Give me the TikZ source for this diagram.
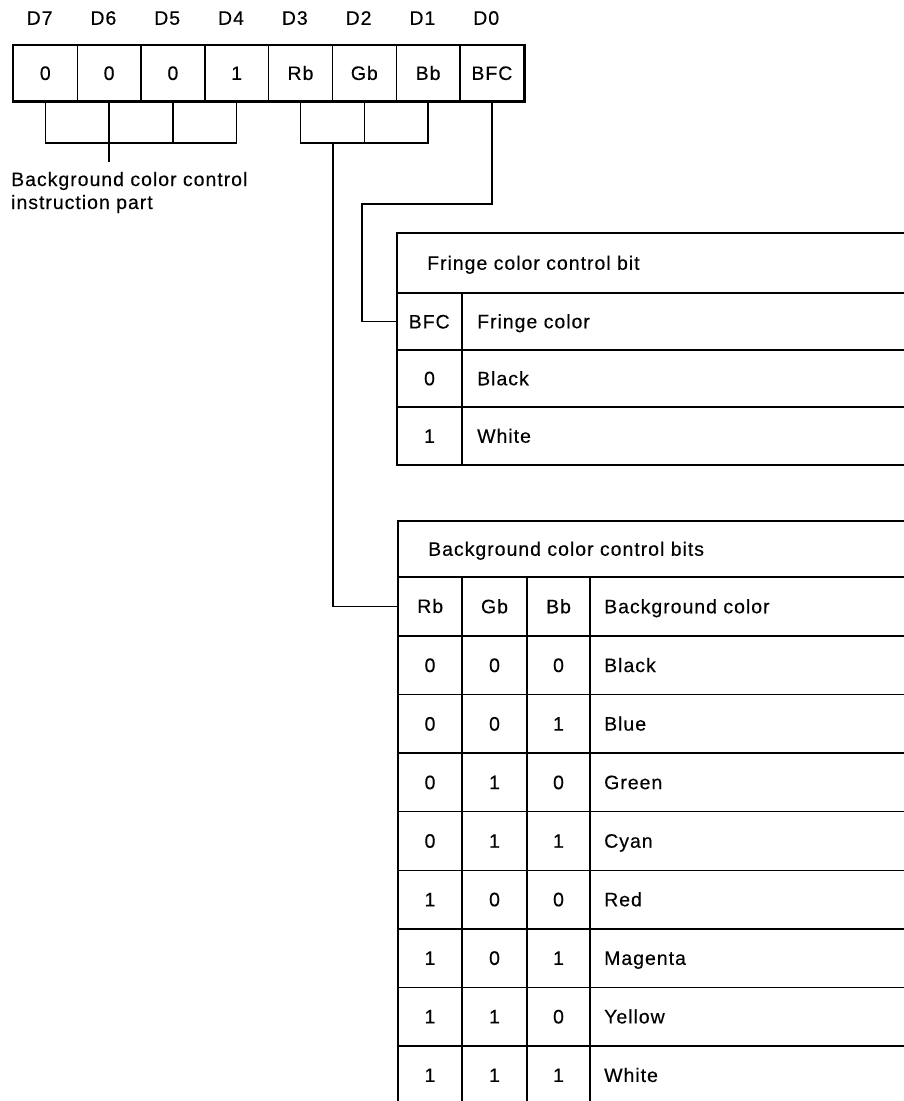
\documentclass[tikz,border=0pt]{standalone}
\usepackage{fontspec}
\setmainfont{Liberation Sans}[LetterSpace=5, FakeBold=0.3]
\begin{document}
\begin{tikzpicture}[x=1pt,y=-1pt,
  every node/.style={font=\fontsize{19.5}{24}\selectfont, inner sep=0pt, text height=13.5pt, text depth=0pt},
  outer/.style={line width=2.4pt},
  inner/.style={line width=1.4pt},
  wire/.style={line width=1.4pt},
  regcell/.style={draw, inner, minimum width=63.8pt, minimum height=55pt, anchor=north west},
  hdrcell/.style={minimum width=64pt, minimum height=58pt},
  lefttxt/.style={anchor=west},
]
\useasboundingbox (0,0) rectangle (904,1101);
\clip (0,0) rectangle (904,1101);

% ---------- register ----------
\foreach \i/\t/\d in {0/0/D7,1/0/D6,2/0/D5,3/1/D4,4/Rb/D3,5/Gb/D2,6/Bb/D1,7/BFC/D0}{
  \node[regcell] (r\i) at ({12.7+63.8*\i},45) {\t};
  \node (l\i) at ({12.7+63.8*\i+31.9-5},18) {\d};
}
\draw[outer] (r0.north west) rectangle (r7.south east);

% left group bus
\draw[wire] (r0.south) |- (r3.south |- 0,143) -- (r3.south);
\draw[wire] (r1.south) -- (r1.south |- 0,162);
\draw[wire] (r2.south) -- (r2.south |- 0,143);
\node[anchor=base west] (bg1) at (11,186) {Background color control};
\node[anchor=base west] (bg2) at (11,209) {instruction part};

% right group bus
\draw[wire] (r4.south) |- (r6.south |- 0,143) -- (r6.south);
\draw[wire] (r5.south) -- (r5.south |- 0,143);

% ---------- fringe table ----------
\draw[inner] (397,293) -- (920,293);
\draw[inner] (397,350) -- (920,350);
\draw[inner] (397,407) -- (920,407);
\draw[inner] (462,293) -- (462,465);
\draw[outer] (920,233) -- (397,233) -- (397,465) -- (920,465);
\node[lefttxt] (ftitle) at (427,263) {Fringe color control bit};
\node[hdrcell, minimum height=57pt, anchor=north west] (fbfc) at (397,293) {BFC};
\node[lefttxt] (fhdr) at (477,321.5) {Fringe color};
\node (f0) at (429.5,378.5) {0};
\node[lefttxt] (f0t) at (477,378.5) {Black};
\node (f1) at (429.5,436) {1};
\node[lefttxt] (f1t) at (477,436) {White};

% ---------- background table ----------
\draw[inner] (398,577) -- (920,577);
\foreach \k in {0,...,7}{
  \draw[inner] (398,{636+58.56*\k}) -- (920,{636+58.56*\k});
}
\foreach \xx in {462,527,590}{
  \draw[inner] (\xx,577) -- (\xx,1110);
}
\draw[outer] (920,521) -- (398,521) -- (398,1110);
\node[lefttxt] (btitle) at (428,549) {Background color control bits};
\node[hdrcell, anchor=north west] (brb) at (398,577) {Rb};
\node (bgb) at (494.5,606.5) {Gb};
\node (bbb) at (558.5,606.5) {Bb};
\node[lefttxt] (bhdr) at (604,606.5) {Background color};
\foreach \k/\a/\b/\c/\n in {0/0/0/0/Black,1/0/0/1/Blue,2/0/1/0/Green,3/0/1/1/Cyan,4/1/0/0/Red,5/1/0/1/Magenta,6/1/1/0/Yellow,7/1/1/1/White}{
  \node (ra\k) at (430,{636+58.56*(\k+0.5)}) {\a};
  \node (rb\k) at (494.5,{636+58.56*(\k+0.5)}) {\b};
  \node (rc\k) at (558.5,{636+58.56*(\k+0.5)}) {\c};
  \node[lefttxt] (rn\k) at (604,{636+58.56*(\k+0.5)}) {\n};
}

% ---------- connectors to tables ----------
\coordinate (bfcbend) at (362,204);
\draw[wire] (r7.south) |- (bfcbend) |- (fbfc.west);
\draw[wire] (r4.south east |- 0,143) |- (brb.west);
\end{tikzpicture}
\end{document}
